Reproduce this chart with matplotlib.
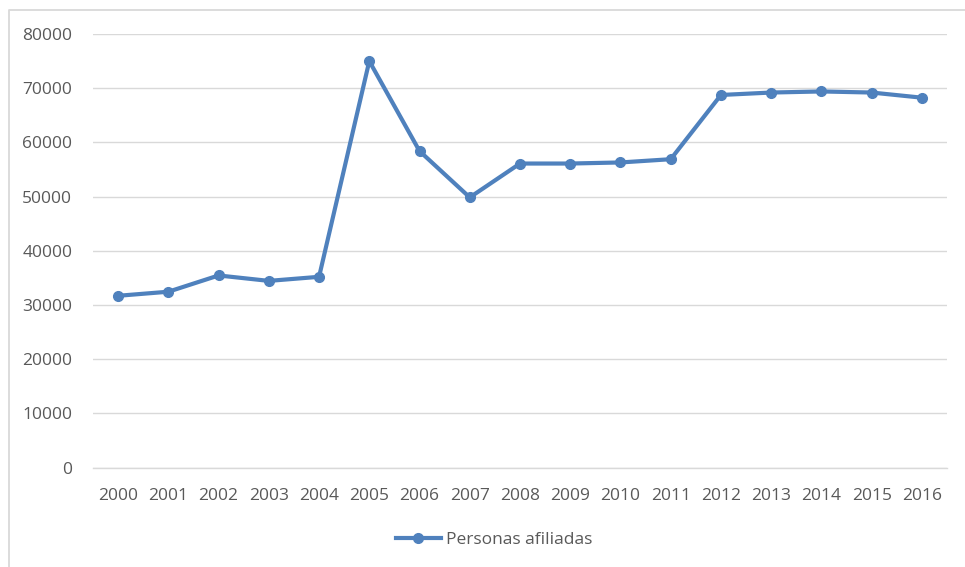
import matplotlib.pyplot as plt
from matplotlib.lines import Line2D

# Personas afiliadas por año
years = ['2000', '2001', '2002', '2003', '2004', '2005', '2006', '2007', '2008',
         '2009', '2010', '2011', '2012', '2013', '2014', '2015', '2016']
afiliadas = [31700, 32450, 35450, 34450, 35200, 75000, 58400, 49850, 56100,
             56100, 56300, 56900, 68750, 69200, 69400, 69200, 68250]
y_ticks = [0, 10000, 20000, 30000, 40000, 50000, 60000, 70000, 80000]

W, H = 965, 567
blue = '#4F81BD'
grid = '#d9d9d9'
text_col = '#595959'

plt.rcParams['font.family'] = ['Open Sans', 'DejaVu Sans']

fig = plt.figure(figsize=(W / 100, H / 100), dpi=100)
ax = fig.add_axes([93 / W, 1 - 467.6 / H, (947 - 93) / W, (467.6 - 34) / H])

x = list(range(len(years)))
ax.plot(x, afiliadas, color=blue, linewidth=3.0, marker='o', markersize=7,
        label='Personas afiliadas', solid_joinstyle='round', zorder=3)

ax.set_xlim(-0.5, len(years) - 0.5)
ax.set_ylim(0, 80000)
ax.set_yticks(y_ticks)
ax.set_yticklabels([str(v) for v in y_ticks])
ax.set_xticks(x)
ax.set_xticklabels(years)
ax.grid(axis='y', color=grid, linewidth=1.0)
ax.axhline(0, color=grid, linewidth=1.0, clip_on=False, zorder=1)
ax.set_axisbelow(True)
for s in ax.spines.values():
    s.set_visible(False)
ax.tick_params(axis='both', length=0, labelsize=12.5, labelcolor=text_col)
ax.tick_params(axis='y', pad=15)
ax.tick_params(axis='x', pad=14.5)

# outer frame (left and top edges only)
fig.add_artist(Line2D([8.5 / W, 8.5 / W, 1.0], [0.0, 1 - 9.5 / H, 1 - 9.5 / H],
                      transform=fig.transFigure, color=grid, linewidth=1.3))

fig.legend(loc='center', bbox_to_anchor=(494 / W, 1 - 540 / H), frameon=False,
           fontsize=12.5, labelcolor=text_col, handlelength=2.6, handletextpad=0.3)

fig.savefig('out.png', dpi=100, facecolor='white')
